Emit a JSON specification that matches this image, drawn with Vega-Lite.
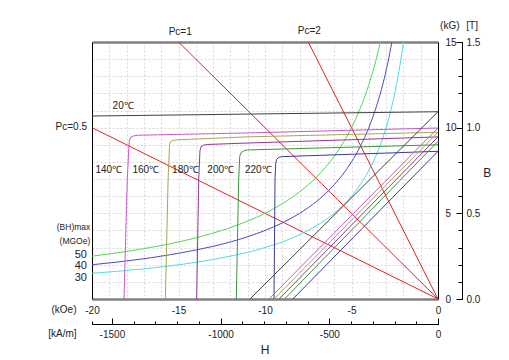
{
  "$schema": "https://vega.github.io/schema/vega-lite/v6.json",
  "width": 346,
  "height": 257,
  "autosize": {"type": "none"},
  "padding": {"left": 92, "top": 42, "right": 71, "bottom": 61},
  "background": "#ffffff",
  "config": {
    "view": {"stroke": null},
    "font": "Liberation Sans",
    "axis": {"labelFont": "Liberation Sans", "labelColor": "#222222", "labelFontSize": 10, "title": null, "labelFlush": false, "labelOverlap": false, "gridColor": "#d8d8d8", "gridDash": [2, 2], "gridWidth": 1, "tickColor": "#000000", "domainColor": "#000000"}
  },
  "datasets": {
    "loads": [
      {"pc": "0.5", "H": -20, "B": 10}, {"pc": "0.5", "H": 0, "B": 0},
      {"pc": "1", "H": -15, "B": 15}, {"pc": "1", "H": 0, "B": 0},
      {"pc": "2", "H": -7.5, "B": 15}, {"pc": "2", "H": 0, "B": 0}
    ],
    "energy": [
      {"e": "50", "H": -20, "B": 2.5}, {"e": "50", "H": -17, "B": 2.94}, {"e": "50", "H": -14, "B": 3.57}, {"e": "50", "H": -12, "B": 4.17}, {"e": "50", "H": -10, "B": 5}, {"e": "50", "H": -9, "B": 5.56}, {"e": "50", "H": -8, "B": 6.25}, {"e": "50", "H": -7, "B": 7.14}, {"e": "50", "H": -6, "B": 8.33}, {"e": "50", "H": -5.5, "B": 9.09}, {"e": "50", "H": -5, "B": 10}, {"e": "50", "H": -4.5, "B": 11.11}, {"e": "50", "H": -4, "B": 12.5}, {"e": "50", "H": -3.7, "B": 13.51}, {"e": "50", "H": -3.333, "B": 15},
      {"e": "40", "H": -20, "B": 2}, {"e": "40", "H": -17, "B": 2.35}, {"e": "40", "H": -14, "B": 2.86}, {"e": "40", "H": -12, "B": 3.33}, {"e": "40", "H": -10, "B": 4}, {"e": "40", "H": -9, "B": 4.44}, {"e": "40", "H": -8, "B": 5}, {"e": "40", "H": -7, "B": 5.71}, {"e": "40", "H": -6, "B": 6.67}, {"e": "40", "H": -5, "B": 8}, {"e": "40", "H": -4.5, "B": 8.89}, {"e": "40", "H": -4, "B": 10}, {"e": "40", "H": -3.5, "B": 11.43}, {"e": "40", "H": -3.2, "B": 12.5}, {"e": "40", "H": -2.9, "B": 13.79}, {"e": "40", "H": -2.667, "B": 15},
      {"e": "30", "H": -20, "B": 1.5}, {"e": "30", "H": -17, "B": 1.76}, {"e": "30", "H": -14, "B": 2.14}, {"e": "30", "H": -12, "B": 2.5}, {"e": "30", "H": -10, "B": 3}, {"e": "30", "H": -8, "B": 3.75}, {"e": "30", "H": -7, "B": 4.29}, {"e": "30", "H": -6, "B": 5}, {"e": "30", "H": -5, "B": 6}, {"e": "30", "H": -4.5, "B": 6.67}, {"e": "30", "H": -4, "B": 7.5}, {"e": "30", "H": -3.5, "B": 8.57}, {"e": "30", "H": -3, "B": 10}, {"e": "30", "H": -2.7, "B": 11.11}, {"e": "30", "H": -2.4, "B": 12.5}, {"e": "30", "H": -2.2, "B": 13.64}, {"e": "30", "H": -2, "B": 15}
    ],
    "intrinsic": [
      {"t": "20", "H": -20, "B": 10.68}, {"t": "20", "H": 0, "B": 10.93},
      {"t": "140", "H": 0, "B": 9.98}, {"t": "140", "H": -11.1, "B": 9.69}, {"t": "140", "H": -17.3, "B": 9.56}, {"t": "140", "H": -17.6, "B": 9.52}, {"t": "140", "H": -17.78, "B": 9.42}, {"t": "140", "H": -17.85, "B": 9.2}, {"t": "140", "H": -17.96, "B": 7.0}, {"t": "140", "H": -18.15, "B": 0},
      {"t": "160", "H": 0, "B": 9.73}, {"t": "160", "H": -11.1, "B": 9.46}, {"t": "160", "H": -15.1, "B": 9.29}, {"t": "160", "H": -15.35, "B": 9.25}, {"t": "160", "H": -15.48, "B": 9.15}, {"t": "160", "H": -15.52, "B": 8.95}, {"t": "160", "H": -15.6, "B": 7.0}, {"t": "160", "H": -15.76, "B": 0},
      {"t": "180", "H": 0, "B": 9.46}, {"t": "180", "H": -11.1, "B": 9.1}, {"t": "180", "H": -13.3, "B": 9.02}, {"t": "180", "H": -13.55, "B": 8.98}, {"t": "180", "H": -13.7, "B": 8.88}, {"t": "180", "H": -13.76, "B": 8.65}, {"t": "180", "H": -13.83, "B": 7.0}, {"t": "180", "H": -13.95, "B": 0},
      {"t": "200", "H": 0, "B": 9.0}, {"t": "200", "H": -11.0, "B": 8.7}, {"t": "200", "H": -11.2, "B": 8.66}, {"t": "200", "H": -11.38, "B": 8.55}, {"t": "200", "H": -11.46, "B": 8.33}, {"t": "200", "H": -11.52, "B": 7.0}, {"t": "200", "H": -11.66, "B": 0},
      {"t": "220", "H": 0, "B": 8.62}, {"t": "220", "H": -9.0, "B": 8.31}, {"t": "220", "H": -9.2, "B": 8.27}, {"t": "220", "H": -9.33, "B": 8.15}, {"t": "220", "H": -9.38, "B": 7.9}, {"t": "220", "H": -9.42, "B": 7.0}, {"t": "220", "H": -9.48, "B": 0}
    ],
    "normal": [
      {"t": "20", "H": -10.87, "B": 0}, {"t": "20", "H": 0, "B": 10.93},
      {"t": "140", "H": -9.77, "B": 0}, {"t": "140", "H": 0, "B": 9.98},
      {"t": "160", "H": -9.48, "B": 0}, {"t": "160", "H": 0, "B": 9.73},
      {"t": "180", "H": -9.19, "B": 0}, {"t": "180", "H": 0, "B": 9.46},
      {"t": "200", "H": -8.87, "B": 0}, {"t": "200", "H": 0, "B": 9.2},
      {"t": "220", "H": -8.39, "B": 0}, {"t": "220", "H": 0, "B": 8.62}
    ],
    "labels10": [
      {"text": "Pc=1", "H": -14.9, "B": 15.6},
      {"text": "Pc=2", "H": -7.44, "B": 15.62},
      {"text": "20℃", "H": -18.2, "B": 11.28},
      {"text": "140℃", "H": -19.03, "B": 7.55},
      {"text": "160℃", "H": -16.89, "B": 7.55},
      {"text": "180℃", "H": -14.6, "B": 7.55},
      {"text": "200℃", "H": -12.56, "B": 7.55},
      {"text": "220℃", "H": -10.39, "B": 7.55},
      {"text": "(kOe)", "H": -21.62, "B": -0.67},
      {"text": "[kA/m]", "H": -21.71, "B": -2.03},
      {"text": "(kG)", "H": 0.68, "B": 15.91},
      {"text": "[T]", "H": 1.97, "B": 15.91}
    ],
    "pcLeft": [
      {"text": "Pc=0.5", "H": -20.29, "B": 10.02}
    ],
    "bhTitle": [
      {"text": "(BH)max", "H": -20.1, "B": 4.2},
      {"text": "(MGOe)", "H": -20.1, "B": 3.36}
    ],
    "bhValues": [
      {"text": "50", "H": -20.29, "B": 2.59},
      {"text": "40", "H": -20.29, "B": 1.9},
      {"text": "30", "H": -20.29, "B": 1.23}
    ],
    "titles": [
      {"text": "H", "H": -10.0, "B": -3.0},
      {"text": "B", "H": 2.85, "B": 7.36}
    ]
  },
  "layer": [
    {
      "data": {"name": "loads"},
      "mark": {"type": "line", "color": "#e82020", "strokeWidth": 1},
      "encoding": {
        "x": {"field": "H", "type": "quantitative", "scale": {"domain": [-20, 0], "nice": false, "zero": false},
          "axis": {"orient": "bottom", "values": [-20, -19, -18, -17, -16, -15, -14, -13, -12, -11, -10, -9, -8, -7, -6, -5, -4, -3, -2, -1, 0], "grid": true, "ticks": false, "domainColor": "#808080", "domainWidth": 2.5, "labelExpr": "datum.value % 5 === 0 ? '' + datum.value : ''", "labelPadding": 6}},
        "y": {"field": "B", "type": "quantitative", "scale": {"domain": [0, 15], "nice": false, "zero": false},
          "axis": {"orient": "left", "values": [0, 1, 2, 3, 4, 5, 6, 7, 8, 9, 10, 11, 12, 13, 14, 15], "grid": true, "ticks": false, "labels": false, "domainColor": "#000000", "domainWidth": 1}},
        "detail": {"field": "pc"}
      }
    },
    {
      "data": {"name": "energy"},
      "mark": {"type": "line", "strokeWidth": 1, "interpolate": "monotone"},
      "encoding": {
        "x": {"field": "H", "type": "quantitative", "scale": {"domain": [-20, 0], "nice": false, "zero": false},
          "axis": {"orient": "top", "grid": false, "ticks": false, "labels": false, "domainColor": "#808080", "domainWidth": 2.5}},
        "y": {"field": "B", "type": "quantitative", "scale": {"domain": [0, 15], "nice": false, "zero": false},
          "axis": {"orient": "right", "values": [0, 5, 10, 15], "grid": false, "ticks": false, "labelPadding": 7, "labelAlign": "left", "domainColor": "#000000", "domainWidth": 1}},
        "color": {"field": "e", "type": "nominal", "scale": {"domain": ["50", "40", "30"], "range": ["#50d850", "#4a4ac8", "#50dede"]}, "legend": null}
      }
    },
    {
      "data": {"name": "intrinsic"},
      "mark": {"type": "line", "strokeWidth": 1},
      "encoding": {
        "x": {"field": "H", "type": "quantitative", "scale": {"domain": [-20, 0], "nice": false, "zero": false},
          "axis": {"orient": "bottom", "offset": 25, "values": [-18.8496, -12.5664, -6.2832, 0], "grid": false, "tickSize": -6, "labelPadding": 11, "labelExpr": "'' + round(datum.value * 79.5775)", "domainColor": "#000000", "domainWidth": 1}},
        "y": {"field": "B", "type": "quantitative", "scale": {"domain": [0, 15], "nice": false, "zero": false},
          "axis": {"orient": "right", "offset": 24, "values": [0, 5, 10, 15], "grid": false, "tickSize": -6, "labelPadding": 10, "labelExpr": "format(datum.value / 10, '.1f')", "domainColor": "#000000", "domainWidth": 1}},
        "color": {"field": "t", "type": "nominal", "scale": {"domain": ["20", "140", "160", "180", "200", "220"], "range": ["#404040", "#cc55cc", "#a8a850", "#993399", "#3a963a", "#3a3a9a"]}, "legend": null}
      }
    },
    {
      "data": {"name": "normal"},
      "mark": {"type": "line", "strokeWidth": 1},
      "encoding": {
        "x": {"field": "H", "type": "quantitative", "scale": {"domain": [-20, 0], "nice": false, "zero": false},
          "axis": {"orient": "bottom", "offset": 25, "values": [-20, -18.8496, -17.5929, -16.3363, -15.0796, -13.823, -12.5664, -11.3097, -10.0531, -8.7965, -7.5398, -6.2832, -5.0265, -3.7699, -2.5133, -1.2566, 0], "grid": false, "tickSize": -3, "labels": false, "domainColor": "#000000", "domainWidth": 1}},
        "y": {"field": "B", "type": "quantitative", "scale": {"domain": [0, 15], "nice": false, "zero": false},
          "axis": {"orient": "right", "offset": 24, "values": [0, 1, 2, 3, 4, 5, 6, 7, 8, 9, 10, 11, 12, 13, 14, 15], "grid": false, "tickSize": -4, "labels": false, "domainColor": "#000000", "domainWidth": 1}},
        "color": {"field": "t", "type": "nominal", "scale": {"domain": ["20", "140", "160", "180", "200", "220"], "range": ["#404040", "#cc55cc", "#a8a850", "#993399", "#3a963a", "#3a3a9a"]}, "legend": null}
      }
    },
    {
      "data": {"name": "labels10"},
      "mark": {"type": "text", "fontSize": 10, "font": "Liberation Sans", "color": "#222222", "align": "center", "baseline": "middle"},
      "encoding": {
        "x": {"field": "H", "type": "quantitative", "scale": {"domain": [-20, 0], "nice": false, "zero": false}, "axis": null},
        "y": {"field": "B", "type": "quantitative", "scale": {"domain": [0, 15], "nice": false, "zero": false}, "axis": null},
        "text": {"field": "text"}
      }
    },
    {
      "data": {"name": "pcLeft"},
      "mark": {"type": "text", "fontSize": 10, "font": "Liberation Sans", "color": "#222222", "align": "right", "baseline": "middle"},
      "encoding": {
        "x": {"field": "H", "type": "quantitative", "scale": {"domain": [-20, 0], "nice": false, "zero": false}, "axis": null},
        "y": {"field": "B", "type": "quantitative", "scale": {"domain": [0, 15], "nice": false, "zero": false}, "axis": null},
        "text": {"field": "text"}
      }
    },
    {
      "data": {"name": "bhTitle"},
      "mark": {"type": "text", "fontSize": 8.5, "font": "Liberation Sans", "color": "#222222", "align": "right", "baseline": "middle"},
      "encoding": {
        "x": {"field": "H", "type": "quantitative", "scale": {"domain": [-20, 0], "nice": false, "zero": false}, "axis": null},
        "y": {"field": "B", "type": "quantitative", "scale": {"domain": [0, 15], "nice": false, "zero": false}, "axis": null},
        "text": {"field": "text"}
      }
    },
    {
      "data": {"name": "bhValues"},
      "mark": {"type": "text", "fontSize": 11, "font": "Liberation Sans", "color": "#222222", "align": "right", "baseline": "middle"},
      "encoding": {
        "x": {"field": "H", "type": "quantitative", "scale": {"domain": [-20, 0], "nice": false, "zero": false}, "axis": null},
        "y": {"field": "B", "type": "quantitative", "scale": {"domain": [0, 15], "nice": false, "zero": false}, "axis": null},
        "text": {"field": "text"}
      }
    },
    {
      "data": {"name": "titles"},
      "mark": {"type": "text", "fontSize": 12, "font": "Liberation Sans", "color": "#222222", "align": "center", "baseline": "middle"},
      "encoding": {
        "x": {"field": "H", "type": "quantitative", "scale": {"domain": [-20, 0], "nice": false, "zero": false}, "axis": null},
        "y": {"field": "B", "type": "quantitative", "scale": {"domain": [0, 15], "nice": false, "zero": false}, "axis": null},
        "text": {"field": "text"}
      }
    }
  ],
  "resolve": {"axis": {"x": "independent", "y": "independent"}, "scale": {"color": "independent"}}
}
